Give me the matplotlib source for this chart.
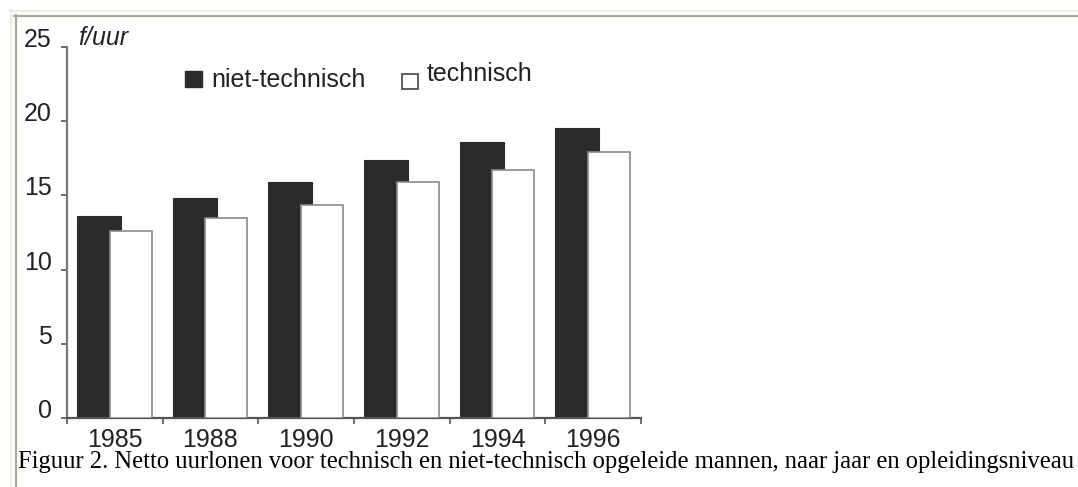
import matplotlib.pyplot as plt
import numpy as np
from matplotlib.lines import Line2D

# Data
years = ['1985', '1988', '1990', '1992', '1994', '1996']
niet_technisch = [13.6, 14.8, 15.9, 17.4, 18.6, 19.55]
technisch = [12.6, 13.45, 14.35, 15.9, 16.7, 17.9]
yticks = [0, 5, 10, 15, 20, 25]
caption = ('Figuur 2. Netto uurlonen voor technisch en niet-technisch '
           'opgeleide mannen, naar jaar en opleidingsniveau')

W, H = 1078, 487
sans = ['Liberation Sans', 'DejaVu Sans']

fig = plt.figure(figsize=(W / 100, H / 100), dpi=100)
fig.patch.set_facecolor('white')

# page frame lines (pixel coords -> figure fractions)
def hline(y, x0, x1, color, lw):
    fig.add_artist(Line2D([x0 / W, x1 / W], [1 - y / H, 1 - y / H],
                          color=color, lw=lw, transform=fig.transFigure))

def vline(x, y0, y1, color, lw):
    fig.add_artist(Line2D([x / W, x / W], [1 - y0 / H, 1 - y1 / H],
                          color=color, lw=lw, transform=fig.transFigure))

hline(10.5, 10, W, '#efebdd', 1.5)
vline(10.5, 10, H, '#efebdd', 1.5)
hline(15.5, 14, W, '#aca899', 1.6)
vline(15.5, 15, H, '#aca899', 1.6)

# axes: x 67..641 px, y 0 at 418 px, 25 at 47 px
ax = fig.add_axes([67 / W, (H - 418) / H, 574 / W, 371 / H])
ax.set_facecolor('none')

x = np.arange(len(years))
ax.bar(x - 0.165, niet_technisch, width=0.46, color='#2b2b2b',
       edgecolor='#2b2b2b', lw=0.8, zorder=2, label='niet-technisch')
ax.bar(x + 0.165, technisch, width=0.44, color='white',
       edgecolor='#8a8a8a', lw=1.2, zorder=3, label='technisch')

ax.set_xlim(-0.5, len(years) - 0.5)
ax.set_ylim(0, 25)

for s in ['top', 'right']:
    ax.spines[s].set_visible(False)
ax.spines['left'].set_color('#7a7a7a')
ax.spines['left'].set_linewidth(1.6)
ax.spines['bottom'].set_color('#555555')
ax.spines['bottom'].set_linewidth(1.6)

ax.set_yticks(yticks)
ax.set_yticklabels([str(v) for v in yticks], family=sans, fontsize=18,
                   color='#222222')
ax.tick_params(axis='y', direction='out', length=4, width=1.2,
               color='#555555', pad=7)
for lab in ax.get_yticklabels():
    lab.set_verticalalignment('baseline')

ax.set_xticks(x)
ax.set_xticklabels(years, family=sans, fontsize=18, color='#222222')
ax.tick_params(axis='x', which='major', length=0, pad=7)
ax.set_xticks(np.arange(-0.5, len(years)), minor=True)
ax.tick_params(axis='x', which='minor', direction='out', length=4,
               width=1.2, color='#555555')

# unit label
fig.text(78 / W, 1 - 45 / H, 'f/uur', family=sans, fontsize=18,
         style='italic', va='baseline', ha='left', color='#222222')

# legend drawn by hand, as in the picture
fig.patches.append(plt.Rectangle((185 / W, 1 - 87 / H), 17 / W, 16 / H,
                                 transform=fig.transFigure,
                                 facecolor='#2b2b2b', edgecolor='#2b2b2b'))
fig.text(211 / W, 1 - 87 / H, 'niet-technisch', family=sans, fontsize=18,
         va='baseline', ha='left', color='#222222')
fig.patches.append(plt.Rectangle((401.5 / W, 1 - 88.5 / H), 16 / W, 15 / H,
                                 transform=fig.transFigure,
                                 facecolor='white', edgecolor='#444444',
                                 lw=1.2))
fig.text(427 / W, 1 - 81 / H, 'technisch', family=sans, fontsize=18,
         va='baseline', ha='left', color='#222222')

fig.text(18 / W, 1 - 462 / H, caption, family=['Liberation Serif'],
         fontsize=17.7, va='center', ha='left', color='black')

fig.savefig('out.png', dpi=100)
